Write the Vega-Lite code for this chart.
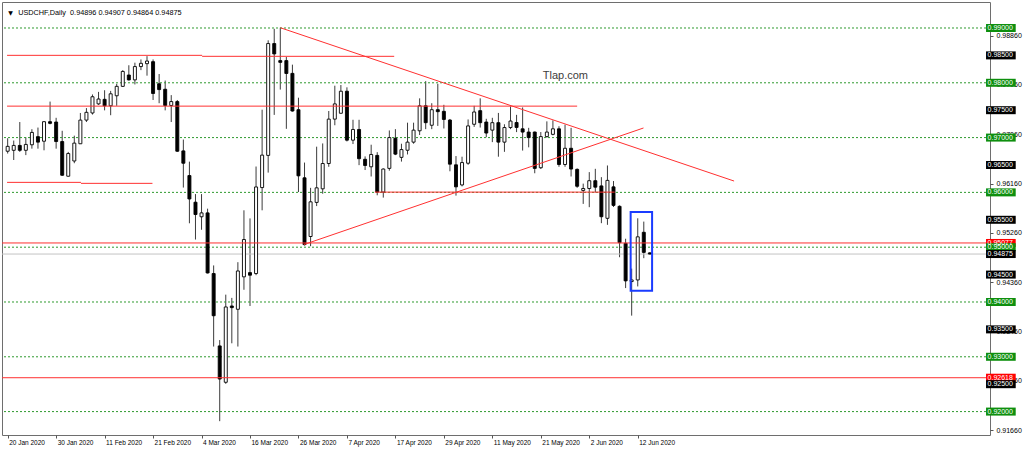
{
  "$schema": "https://vega.github.io/schema/vega-lite/v6.json",
  "width": 988,
  "height": 433,
  "autosize": "none",
  "padding": {"left": 2, "top": 2, "right": 34, "bottom": 18},
  "background": "#ffffff",
  "config": {
    "view": {"stroke": "#6e6e6e", "strokeWidth": 1},
    "font": "Liberation Sans",
    "axis": {"grid": false, "domain": false, "tickColor": "#555555", "labelColor": "#000000", "titleOpacity": 0}
  },
  "datasets": {
    "candles": [
      {"i": 0, "o": 0.96751, "h": 0.96988, "l": 0.96709, "c": 0.96840},
      {"i": 1, "o": 0.96768, "h": 0.96946, "l": 0.96591, "c": 0.96857},
      {"i": 2, "o": 0.96857, "h": 0.97284, "l": 0.96739, "c": 0.96768},
      {"i": 3, "o": 0.96768, "h": 0.97005, "l": 0.96680, "c": 0.96875},
      {"i": 4, "o": 0.96869, "h": 0.97153, "l": 0.96798, "c": 0.97094},
      {"i": 5, "o": 0.97017, "h": 0.97183, "l": 0.96798, "c": 0.96917},
      {"i": 6, "o": 0.96934, "h": 0.97301, "l": 0.96768, "c": 0.97290},
      {"i": 7, "o": 0.97290, "h": 0.97657, "l": 0.97242, "c": 0.97260},
      {"i": 8, "o": 0.97284, "h": 0.97361, "l": 0.96798, "c": 0.96928},
      {"i": 9, "o": 0.96928, "h": 0.97124, "l": 0.96300, "c": 0.96313},
      {"i": 10, "o": 0.96295, "h": 0.96739, "l": 0.96290, "c": 0.96709},
      {"i": 11, "o": 0.96573, "h": 0.97035, "l": 0.96532, "c": 0.96899},
      {"i": 12, "o": 0.96887, "h": 0.97449, "l": 0.96887, "c": 0.97319},
      {"i": 13, "o": 0.97319, "h": 0.97538, "l": 0.97284, "c": 0.97461},
      {"i": 14, "o": 0.97449, "h": 0.97787, "l": 0.97420, "c": 0.97745},
      {"i": 15, "o": 0.97615, "h": 0.97834, "l": 0.97597, "c": 0.97704},
      {"i": 16, "o": 0.97698, "h": 0.97864, "l": 0.97497, "c": 0.97580},
      {"i": 17, "o": 0.97580, "h": 0.97852, "l": 0.97408, "c": 0.97799},
      {"i": 18, "o": 0.97763, "h": 0.97982, "l": 0.97580, "c": 0.97935},
      {"i": 19, "o": 0.97935, "h": 0.98231, "l": 0.97923, "c": 0.98207},
      {"i": 20, "o": 0.98142, "h": 0.98320, "l": 0.98041, "c": 0.98053},
      {"i": 21, "o": 0.98053, "h": 0.98367, "l": 0.97970, "c": 0.98296},
      {"i": 22, "o": 0.98296, "h": 0.98426, "l": 0.98231, "c": 0.98355},
      {"i": 23, "o": 0.98349, "h": 0.98486, "l": 0.98130, "c": 0.98397},
      {"i": 24, "o": 0.98385, "h": 0.98426, "l": 0.97686, "c": 0.97805},
      {"i": 25, "o": 0.97982, "h": 0.98160, "l": 0.97627, "c": 0.97876},
      {"i": 26, "o": 0.97882, "h": 0.98041, "l": 0.97497, "c": 0.97586},
      {"i": 27, "o": 0.97586, "h": 0.97775, "l": 0.97284, "c": 0.97657},
      {"i": 28, "o": 0.97657, "h": 0.97686, "l": 0.96740, "c": 0.96751},
      {"i": 29, "o": 0.96757, "h": 0.96964, "l": 0.96088, "c": 0.96532},
      {"i": 30, "o": 0.96307, "h": 0.96561, "l": 0.95436, "c": 0.95880},
      {"i": 31, "o": 0.95821, "h": 0.95969, "l": 0.95140, "c": 0.95596},
      {"i": 32, "o": 0.95555, "h": 0.95969, "l": 0.95318, "c": 0.95626},
      {"i": 33, "o": 0.95626, "h": 0.95703, "l": 0.94520, "c": 0.94530},
      {"i": 34, "o": 0.94519, "h": 0.94667, "l": 0.93187, "c": 0.93749},
      {"i": 35, "o": 0.93198, "h": 0.93305, "l": 0.91825, "c": 0.92594},
      {"i": 36, "o": 0.92535, "h": 0.94134, "l": 0.92506, "c": 0.93909},
      {"i": 37, "o": 0.93927, "h": 0.94075, "l": 0.93246, "c": 0.93897},
      {"i": 38, "o": 0.93867, "h": 0.94726, "l": 0.93187, "c": 0.94566},
      {"i": 39, "o": 0.94459, "h": 0.95673, "l": 0.94223, "c": 0.95140},
      {"i": 40, "o": 0.94536, "h": 0.95525, "l": 0.93927, "c": 0.94489},
      {"i": 41, "o": 0.94519, "h": 0.96472, "l": 0.94489, "c": 0.96099},
      {"i": 42, "o": 0.96088, "h": 0.97509, "l": 0.95673, "c": 0.96680},
      {"i": 43, "o": 0.96675, "h": 0.98775, "l": 0.96361, "c": 0.98716},
      {"i": 44, "o": 0.98716, "h": 0.98985, "l": 0.97414, "c": 0.98527},
      {"i": 45, "o": 0.98405, "h": 0.99005, "l": 0.97876, "c": 0.98373},
      {"i": 46, "o": 0.98405, "h": 0.98470, "l": 0.97160, "c": 0.98170},
      {"i": 47, "o": 0.98172, "h": 0.98331, "l": 0.97473, "c": 0.97485},
      {"i": 48, "o": 0.97509, "h": 0.97728, "l": 0.96006, "c": 0.96302},
      {"i": 49, "o": 0.96266, "h": 0.96544, "l": 0.95030, "c": 0.95047},
      {"i": 50, "o": 0.95195, "h": 0.96083, "l": 0.95018, "c": 0.95828},
      {"i": 51, "o": 0.95817, "h": 0.96834, "l": 0.95750, "c": 0.96083},
      {"i": 52, "o": 0.96065, "h": 0.96893, "l": 0.95976, "c": 0.96527},
      {"i": 53, "o": 0.96527, "h": 0.97485, "l": 0.96467, "c": 0.97337},
      {"i": 54, "o": 0.97337, "h": 0.97947, "l": 0.97225, "c": 0.97615},
      {"i": 55, "o": 0.97444, "h": 0.97959, "l": 0.97440, "c": 0.97846},
      {"i": 56, "o": 0.97846, "h": 0.97917, "l": 0.96930, "c": 0.96953},
      {"i": 57, "o": 0.96953, "h": 0.97325, "l": 0.96882, "c": 0.97148},
      {"i": 58, "o": 0.97148, "h": 0.97325, "l": 0.96497, "c": 0.96615},
      {"i": 59, "o": 0.96604, "h": 0.96657, "l": 0.96408, "c": 0.96491},
      {"i": 60, "o": 0.96467, "h": 0.96870, "l": 0.96290, "c": 0.96692},
      {"i": 61, "o": 0.96675, "h": 0.96734, "l": 0.95947, "c": 0.96006},
      {"i": 62, "o": 0.96006, "h": 0.96438, "l": 0.95905, "c": 0.96426},
      {"i": 63, "o": 0.96438, "h": 0.97130, "l": 0.96396, "c": 0.97000},
      {"i": 64, "o": 0.96988, "h": 0.97154, "l": 0.96680, "c": 0.96698},
      {"i": 65, "o": 0.96639, "h": 0.96888, "l": 0.96562, "c": 0.96781},
      {"i": 66, "o": 0.96769, "h": 0.97272, "l": 0.96692, "c": 0.96917},
      {"i": 67, "o": 0.96917, "h": 0.97272, "l": 0.96888, "c": 0.97136},
      {"i": 68, "o": 0.97124, "h": 0.97716, "l": 0.97047, "c": 0.97580},
      {"i": 69, "o": 0.97580, "h": 0.98030, "l": 0.97154, "c": 0.97272},
      {"i": 70, "o": 0.97225, "h": 0.97627, "l": 0.97154, "c": 0.97509},
      {"i": 71, "o": 0.97509, "h": 0.97982, "l": 0.97213, "c": 0.97473},
      {"i": 72, "o": 0.97479, "h": 0.97598, "l": 0.97166, "c": 0.97331},
      {"i": 73, "o": 0.97320, "h": 0.97340, "l": 0.96385, "c": 0.96515},
      {"i": 74, "o": 0.96503, "h": 0.96663, "l": 0.95941, "c": 0.96101},
      {"i": 75, "o": 0.96136, "h": 0.96651, "l": 0.96110, "c": 0.96544},
      {"i": 76, "o": 0.96532, "h": 0.97331, "l": 0.96503, "c": 0.97213},
      {"i": 77, "o": 0.97243, "h": 0.97580, "l": 0.97195, "c": 0.97467},
      {"i": 78, "o": 0.97491, "h": 0.97716, "l": 0.97183, "c": 0.97272},
      {"i": 79, "o": 0.97284, "h": 0.97343, "l": 0.97006, "c": 0.97083},
      {"i": 80, "o": 0.97136, "h": 0.97361, "l": 0.96917, "c": 0.97272},
      {"i": 81, "o": 0.97272, "h": 0.97450, "l": 0.96651, "c": 0.96917},
      {"i": 82, "o": 0.96917, "h": 0.97243, "l": 0.96740, "c": 0.97183},
      {"i": 83, "o": 0.97183, "h": 0.97568, "l": 0.97154, "c": 0.97302},
      {"i": 84, "o": 0.97275, "h": 0.97415, "l": 0.97100, "c": 0.97185},
      {"i": 85, "o": 0.97160, "h": 0.97550, "l": 0.96763, "c": 0.97101},
      {"i": 86, "o": 0.97101, "h": 0.97178, "l": 0.96822, "c": 0.97000},
      {"i": 87, "o": 0.97101, "h": 0.97110, "l": 0.96349, "c": 0.96438},
      {"i": 88, "o": 0.96450, "h": 0.97101, "l": 0.96426, "c": 0.97018},
      {"i": 89, "o": 0.97018, "h": 0.97296, "l": 0.97000, "c": 0.97101},
      {"i": 90, "o": 0.97059, "h": 0.97314, "l": 0.97041, "c": 0.97160},
      {"i": 91, "o": 0.97160, "h": 0.97207, "l": 0.96467, "c": 0.96509},
      {"i": 92, "o": 0.96509, "h": 0.97237, "l": 0.96467, "c": 0.96805},
      {"i": 93, "o": 0.96805, "h": 0.97178, "l": 0.96290, "c": 0.96426},
      {"i": 94, "o": 0.96420, "h": 0.96438, "l": 0.96083, "c": 0.96112},
      {"i": 95, "o": 0.96036, "h": 0.96160, "l": 0.95790, "c": 0.96071},
      {"i": 96, "o": 0.96071, "h": 0.96370, "l": 0.95730, "c": 0.96213},
      {"i": 97, "o": 0.96213, "h": 0.96430, "l": 0.96000, "c": 0.96095},
      {"i": 98, "o": 0.96118, "h": 0.96278, "l": 0.95438, "c": 0.95556},
      {"i": 99, "o": 0.95527, "h": 0.96491, "l": 0.95408, "c": 0.96219},
      {"i": 100, "o": 0.96101, "h": 0.96207, "l": 0.95734, "c": 0.95763},
      {"i": 101, "o": 0.95746, "h": 0.95763, "l": 0.94817, "c": 0.95083},
      {"i": 102, "o": 0.95071, "h": 0.95154, "l": 0.94254, "c": 0.94385},
      {"i": 103, "o": 0.94373, "h": 0.94609, "l": 0.93751, "c": 0.94402},
      {"i": 104, "o": 0.94402, "h": 0.95527, "l": 0.94284, "c": 0.95189},
      {"i": 105, "o": 0.95272, "h": 0.95467, "l": 0.94799, "c": 0.94905},
      {"i": 106, "o": 0.94896, "h": 0.94907, "l": 0.94864, "c": 0.94875}
    ],
    "levels": [
      {"p": 0.99}, {"p": 0.98}, {"p": 0.97}, {"p": 0.96},
      {"p": 0.95}, {"p": 0.94}, {"p": 0.93}, {"p": 0.92}
    ],
    "redlevels": [{"p": 0.95077}, {"p": 0.92618}],
    "bid": [{"p": 0.94875}],
    "segments": [
      {"i1": -0.1, "p1": 0.98501, "i2": 32.1, "p2": 0.98501},
      {"i1": 32.1, "p1": 0.98483, "i2": 63.8, "p2": 0.98483},
      {"i1": -0.1, "p1": 0.97574, "i2": 94.0, "p2": 0.97574},
      {"i1": -0.1, "p1": 0.96183, "i2": 12.1, "p2": 0.96183},
      {"i1": 12.1, "p1": 0.96165, "i2": 23.9, "p2": 0.96165},
      {"i1": 60.6, "p1": 0.96005, "i2": 100.2, "p2": 0.96005},
      {"i1": 45.0, "p1": 0.99005, "i2": 119.9, "p2": 0.96207},
      {"i1": 48.9, "p1": 0.95048, "i2": 104.95, "p2": 0.97175}
    ],
    "tags": [
      {"p": 0.99, "t": "0.99000", "kind": "green"},
      {"p": 0.985, "t": "0.98500", "kind": "black"},
      {"p": 0.98, "t": "0.98000", "kind": "green"},
      {"p": 0.975, "t": "0.97500", "kind": "black"},
      {"p": 0.97, "t": "0.97000", "kind": "green"},
      {"p": 0.965, "t": "0.96500", "kind": "black"},
      {"p": 0.96, "t": "0.96000", "kind": "green"},
      {"p": 0.955, "t": "0.95500", "kind": "black"},
      {"p": 0.95077, "t": "0.95077", "kind": "red"},
      {"p": 0.95, "t": "0.95000", "kind": "green"},
      {"p": 0.94875, "t": "0.94875", "kind": "black"},
      {"p": 0.945, "t": "0.94500", "kind": "black"},
      {"p": 0.94, "t": "0.94000", "kind": "green"},
      {"p": 0.935, "t": "0.93500", "kind": "black"},
      {"p": 0.93, "t": "0.93000", "kind": "green"},
      {"p": 0.92618, "t": "0.92618", "kind": "red"},
      {"p": 0.925, "t": "0.92500", "kind": "black"},
      {"p": 0.92, "t": "0.92000", "kind": "green"}
    ]
  },
  "layer": [
    {
      "data": {"name": "candles"},
      "mark": {"type": "rule", "color": "#3b3b3b", "strokeWidth": 1},
      "encoding": {
        "x": {
          "field": "i", "type": "quantitative", "title": null,
          "scale": {"domain": [-0.11, 161.32], "nice": false, "zero": false},
          "axis": {
            "orient": "bottom",
            "values": [0, 8, 16, 24, 32, 40, 48, 56, 64, 72, 80, 88, 96, 104],
            "labelExpr": "datum.value == 0 ? '20 Jan 2020' : datum.value == 8 ? '30 Jan 2020' : datum.value == 16 ? '11 Feb 2020' : datum.value == 24 ? '21 Feb 2020' : datum.value == 32 ? '4 Mar 2020' : datum.value == 40 ? '16 Mar 2020' : datum.value == 48 ? '26 Mar 2020' : datum.value == 56 ? '7 Apr 2020' : datum.value == 64 ? '17 Apr 2020' : datum.value == 72 ? '29 Apr 2020' : datum.value == 80 ? '11 May 2020' : datum.value == 88 ? '21 May 2020' : datum.value == 96 ? '2 Jun 2020' : '12 Jun 2020'",
            "tickSize": 3,
            "labelAlign": "left", "labelBaseline": "top", "labelPadding": 1, "labelOffset": 1,
            "labelFontSize": 6.5, "labelOverlap": false, "labelBound": false, "labelFlush": false
          }
        },
        "y": {
          "field": "l", "type": "quantitative", "title": null,
          "scale": {"domain": [0.91664, 0.99383], "nice": false, "zero": false},
          "axis": {
            "orient": "right",
            "values": [0.9166, 0.9211, 0.9256, 0.9301, 0.9346, 0.9391, 0.9436, 0.9481, 0.9526, 0.9571, 0.9616, 0.9661, 0.9706, 0.9751, 0.9796, 0.9841, 0.9886, 0.9931],
            "format": ".5f", "tickSize": 3, "labelPadding": 3, "labelFontSize": 7,
            "labelBaseline": "middle", "labelOverlap": false, "labelBound": false, "labelFlush": false
          }
        },
        "y2": {"field": "h"}
      }
    },
    {
      "data": {"name": "levels"},
      "mark": {"type": "rule", "color": "#2f9a2f", "strokeWidth": 1, "strokeDash": [2, 2]},
      "encoding": {
        "y": {"field": "p", "type": "quantitative", "title": null}
      }
    },
    {
      "data": {"name": "bid"},
      "mark": {"type": "rule", "color": "#c4c4c4", "strokeWidth": 1},
      "encoding": {
        "y": {"field": "p", "type": "quantitative", "title": null}
      }
    },
    {
      "data": {"name": "candles"},
      "mark": {"type": "bar", "size": 3, "stroke": "#000000", "strokeWidth": 0.9},
      "encoding": {
        "x": {"field": "i", "type": "quantitative", "title": null},
        "y": {"field": "o", "type": "quantitative", "title": null},
        "y2": {"field": "c"},
        "fill": {"condition": {"test": "datum.c >= datum.o", "value": "#ffffff"}, "value": "#000000"}
      }
    },
    {
      "data": {"name": "redlevels"},
      "mark": {"type": "rule", "color": "#ff3030", "strokeWidth": 1},
      "encoding": {
        "y": {"field": "p", "type": "quantitative", "title": null}
      }
    },
    {
      "data": {"name": "segments"},
      "mark": {"type": "rule", "color": "#ff3030", "strokeWidth": 1},
      "encoding": {
        "x": {"field": "i1", "type": "quantitative", "title": null},
        "x2": {"field": "i2"},
        "y": {"field": "p1", "type": "quantitative", "title": null},
        "y2": {"field": "p2"}
      }
    },
    {
      "data": {"values": [{"i1": 102.83, "i2": 106.37, "p1": 0.95642, "p2": 0.94205}]},
      "mark": {"type": "rect", "fill": "#ffffff", "fillOpacity": 0, "stroke": "#1a3cff", "strokeWidth": 2},
      "encoding": {
        "x": {"field": "i1", "type": "quantitative", "title": null},
        "x2": {"field": "i2"},
        "y": {"field": "p1", "type": "quantitative", "title": null},
        "y2": {"field": "p2"}
      }
    },
    {
      "data": {"values": [{"i": 88.33, "p": 0.98066, "t": "Tlap.com"}]},
      "mark": {"type": "text", "align": "left", "baseline": "alphabetic", "fontSize": 11, "color": "#3c3c3c"},
      "encoding": {
        "x": {"field": "i", "type": "quantitative", "title": null},
        "y": {"field": "p", "type": "quantitative", "title": null},
        "text": {"field": "t"}
      }
    },
    {
      "data": {"values": [{"i": 0.46, "p": 0.99237, "t": "▼"}]},
      "mark": {"type": "text", "align": "center", "baseline": "alphabetic", "fontSize": 6, "font": "DejaVu Sans", "color": "#000000"},
      "encoding": {
        "x": {"field": "i", "type": "quantitative", "title": null},
        "y": {"field": "p", "type": "quantitative", "title": null},
        "text": {"field": "t"}
      }
    },
    {
      "data": {"values": [{"i": 1.73, "p": 0.99237, "t": "USDCHF,Daily\u00a0\u00a00.94896 0.94907 0.94864 0.94875"}]},
      "mark": {"type": "text", "align": "left", "baseline": "alphabetic", "fontSize": 7.3, "color": "#000000"},
      "encoding": {
        "x": {"field": "i", "type": "quantitative", "title": null},
        "y": {"field": "p", "type": "quantitative", "title": null},
        "text": {"field": "t"}
      }
    },
    {
      "data": {"name": "tags"},
      "mark": {"type": "bar", "orient": "horizontal", "size": 8},
      "encoding": {
        "x": {"datum": 161.49, "type": "quantitative", "title": null},
        "x2": {"datum": 166.39},
        "y": {"field": "p", "type": "quantitative", "title": null},
        "color": {"field": "kind", "type": "nominal", "legend": null,
          "scale": {"domain": ["green", "black", "red"], "range": ["#0e8f0e", "#000000", "#ff0000"]}}
      }
    },
    {
      "data": {"name": "tags"},
      "mark": {"type": "text", "align": "left", "baseline": "middle", "fontSize": 7, "color": "#ffffff"},
      "encoding": {
        "x": {"datum": 161.75, "type": "quantitative", "title": null},
        "y": {"field": "p", "type": "quantitative", "title": null},
        "text": {"field": "t"}
      }
    }
  ]
}
